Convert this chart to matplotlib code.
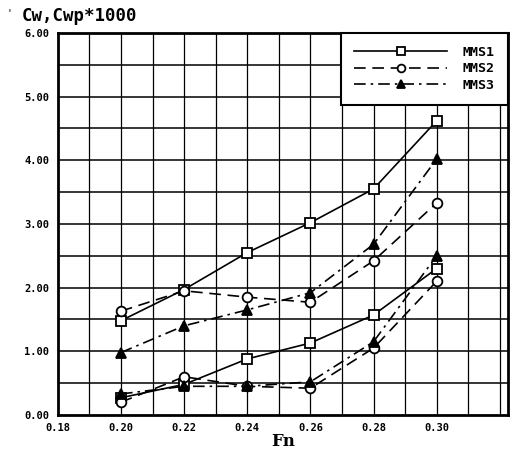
import numpy as np
import matplotlib

matplotlib.use("Agg")
import matplotlib.pyplot as plt

fn = [0.20, 0.22, 0.24, 0.26, 0.28, 0.30]

# total resistance (upper curves)
cw_mms1 = [1.48, 1.97, 2.55, 3.02, 3.55, 4.62]
cw_mms2 = [1.63, 1.95, 1.85, 1.77, 2.42, 3.33]
cw_mms3 = [0.98, 1.40, 1.65, 1.92, 2.68, 4.02]

# wave-pattern resistance (lower curves)
cwp_mms1 = [0.27, 0.48, 0.88, 1.13, 1.57, 2.30]
cwp_mms2 = [0.20, 0.60, 0.45, 0.42, 1.05, 2.10]
cwp_mms3 = [0.33, 0.45, 0.45, 0.52, 1.15, 2.50]

x_ticks = [0.18, 0.20, 0.22, 0.24, 0.26, 0.28, 0.30]
y_ticks = [0, 1, 2, 3, 4, 5, 6]

mono = "DejaVu Sans Mono"

styles = {
    "MMS1": dict(ls="-", marker="s", mfc="white"),
    "MMS2": dict(ls=(0, (7, 4)), marker="o", mfc="white"),
    "MMS3": dict(ls=(0, (7, 3, 1.5, 3)), marker="^", mfc="black"),
}

fig = plt.figure(figsize=(5.16, 4.57), dpi=100)
ax = fig.add_axes([0.112, 0.092, 0.872, 0.836])

ax.set_xlim(0.18, 0.3225)
ax.set_ylim(0, 6)

for name, upper, lower in [
    ("MMS1", cw_mms1, cwp_mms1),
    ("MMS2", cw_mms2, cwp_mms2),
    ("MMS3", cw_mms3, cwp_mms3),
]:
    st = styles[name]
    ax.plot(fn, upper, color="black", lw=1.2, ls=st["ls"], marker=st["marker"],
            ms=7, mfc=st["mfc"], mec="black", mew=1.3, label=name)
    ax.plot(fn, lower, color="black", lw=1.2, ls=st["ls"], marker=st["marker"],
            ms=7, mfc=st["mfc"], mec="black", mew=1.3)

# grid every 0.01 in Fn and 0.5 in C
for xv in np.arange(0.19, 0.3225, 0.01):
    ax.axvline(xv, color="black", lw=0.9, zorder=0)
for yv in np.arange(0.5, 6.0, 0.5):
    ax.axhline(yv, color="black", lw=1.1, zorder=0)

for s in ax.spines.values():
    s.set_linewidth(2.0)

ax.set_xticks(x_ticks)
ax.set_xticklabels([f"{v:.2f}" for v in x_ticks], fontfamily=mono,
                   fontweight="bold", fontsize=7.5)
ax.set_yticks(y_ticks)
ax.set_yticklabels([f"{v:.2f}" for v in y_ticks], fontfamily=mono,
                   fontweight="bold", fontsize=7.5)
ax.tick_params(length=0, pad=6)

ax.set_xlabel("Fn", fontfamily="DejaVu Serif", fontweight="bold", fontsize=12,
              labelpad=0)
fig.text(0.012, 0.965, "'", fontsize=7, fontfamily=mono)
fig.text(0.042, 0.955, "Cw,Cwp*1000", fontfamily=mono, fontweight="bold",
         fontsize=12.5)

leg = ax.legend(loc="upper right", frameon=True, fancybox=False,
                edgecolor="black", framealpha=1, borderaxespad=0,
                handlelength=7, handletextpad=1.2, borderpad=1.0,
                labelspacing=0.25, markerscale=0.8,
                prop=dict(family=mono, weight="bold", size=9.5))
leg.get_frame().set_linewidth(1.5)

fig.savefig("out.png", dpi=100)
